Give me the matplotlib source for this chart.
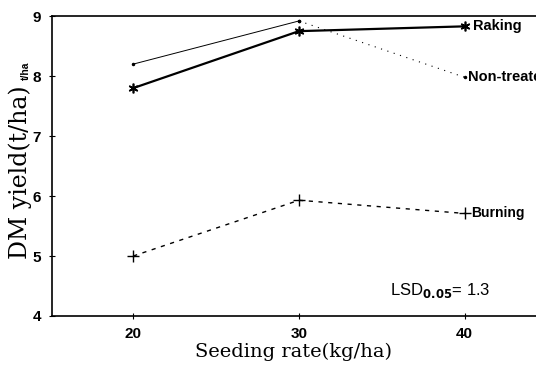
import matplotlib
matplotlib.use('Agg')
import matplotlib.pyplot as plt

# Data
seeding_rate = [20, 30, 40]
non_treated = [8.2, 8.92, 7.98]
raking = [7.8, 8.75, 8.83]
burning = [5.0, 5.93, 5.71]
lsd_text = r'LSD$_{\mathbf{0.05}}$= 1.3'

fig = plt.figure(figsize=(5.36, 3.67), dpi=100)
ax = fig.add_axes([0.097, 0.139, 0.903, 0.817])

sans = 'Liberation Sans'
serif = 'DejaVu Serif'

# Non-treated: thin line, dotted after 30
ax.plot(seeding_rate[:2], non_treated[:2], color='black', lw=0.7,
        marker='.', ms=3)
ax.plot(seeding_rate[1:], non_treated[1:], color='black', lw=0.8,
        linestyle=(0, (1, 5)), marker='.', ms=3)

# Raking: heavy line with asterisks
ax.plot(seeding_rate, raking, color='black', lw=1.6,
        marker=(6, 2, 0), ms=7, mew=1.2)

# Burning: dashed with plus
ax.plot(seeding_rate, burning, color='black', lw=1.0,
        linestyle=(0, (3, 4)), marker='+', ms=8, mew=1.0)

# series labels at the line ends
ax.text(40.5, raking[2], 'Raking', fontsize=10.5, family=sans, fontweight='bold',
        va='center', ha='left')
ax.text(40.2, non_treated[2], 'Non-treated', fontsize=10.5, family=sans,
        fontweight='bold', va='center', ha='left', clip_on=False)
ax.text(40.4, burning[2], 'Burning', fontsize=10, family=sans,
        fontweight='bold', va='center', ha='left')
ax.text(35.5, 4.43, lsd_text, fontsize=12, family=sans, va='center',
        ha='left')

ax.set_xlim(15.1, 44.3)
ax.set_ylim(4, 9)
ax.set_xticks(seeding_rate)
ax.set_yticks([4, 5, 6, 7, 8, 9])
ax.tick_params(direction='inout', length=4, width=0.8, labelsize=11, pad=6)
for lab in ax.get_xticklabels() + ax.get_yticklabels():
    lab.set_family(sans)
    lab.set_fontweight('bold')

ax.spines['right'].set_visible(False)
for s in ['left', 'bottom', 'top']:
    ax.spines[s].set_linewidth(1.2)

ax.set_xlabel('Seeding rate(kg/ha)', family=serif, fontsize=14, labelpad=1)
fig.text(0.038, 0.532, 'DM yield(t/ha)', family=serif, fontsize=17,
         rotation=90, va='center', ha='center')
fig.text(0.048, 0.807, 't/ha', family=sans, fontsize=7.5, fontweight='bold',
         rotation=90, va='center', ha='center')

plt.savefig('out.png', dpi=100)
